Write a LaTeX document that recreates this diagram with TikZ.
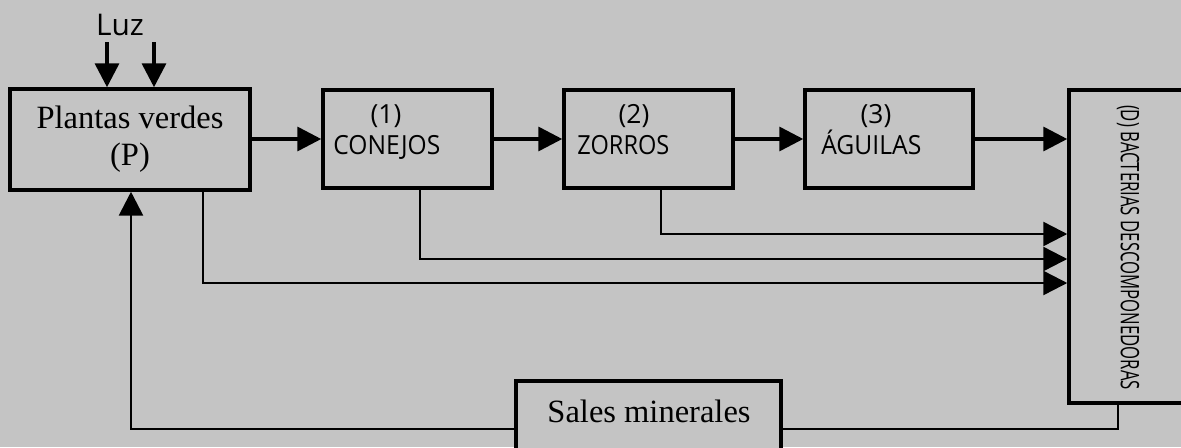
\documentclass[tikz,border=0pt]{standalone}
\usepackage{fontspec}
\setmainfont{Liberation Serif}
\setsansfont{Open Sans}
\usetikzlibrary{
  arrows.meta,
  calc
}
\definecolor{ink}{HTML}{000000}
\definecolor{paper}{HTML}{C4C4C4}
\tikzset{
  box/.style={
    draw=ink,
    fill=paper,
    line width=2pt,
    inner sep=0pt
  },
  flow/.style={
    -{Triangle[length=0.48cm,width=0.48cm]},
    line width=2pt,
    draw=ink
  },
  waste/.style={
    flow,
    line width=1.4pt
  },
  boxlabel/.style={
    font=\sffamily\fontsize{15}{18}\selectfont,
    inner sep=0pt
  },
  serifbig/.style={
    font=\fontsize{18.5}{21}\selectfont
  }
}

\begin{document}
\begin{tikzpicture}[x=0.02cm,y=-0.02cm]
  % Page and background.
  \fill[paper] (0,0) rectangle (1181,447);
  \useasboundingbox (0,0) rectangle (1181,447);
  \clip (0,0) rectangle (1181,447);

  % Boxes.
  \node[box, serifbig, align=center, minimum width=4.8cm, minimum height=2.02cm]
    (plantas) at (130,139.5) {Plantas verdes\\(P)};
  \node[box, minimum width=3.38cm, minimum height=1.96cm]
    (conejos) at (407.5,139) {};
  \node[box, minimum width=3.38cm, minimum height=1.96cm]
    (zorros) at (648.5,139) {};
  \node[box, minimum width=3.36cm, minimum height=1.96cm]
    (aguilas) at (889,139) {};
  \node[box, minimum width=2.42cm, minimum height=6.26cm]
    (bacterias) at (1129.5,246.5) {};
  \node[box, minimum width=5.3cm, minimum height=1.92cm]
    (sales) at (648.5,429) {};

  % Labels.
  \node[font=\sffamily\fontsize{17}{20}\selectfont, anchor=base, inner sep=0pt]
    (luz) at (120,35) {Luz};
  \node[boxlabel] (conejosnum) at (386,116.5) {(1)};
  \node[boxlabel, anchor=base west] (conejostext) at (333,154)
    {\resizebox{2.14cm}{\height}{CONEJOS}};
  \node[boxlabel] (zorrosnum) at (634,116.5) {(2)};
  \node[boxlabel, anchor=base west] (zorrostext) at (577,154)
    {\resizebox{1.84cm}{\height}{ZORROS}};
  \node[boxlabel] (aguilasnum) at (876,116.5) {(3)};
  \node[boxlabel, anchor=base west] (aguilastext) at (821,154)
    {\resizebox{2.0cm}{\height}{ÁGUILAS}};
  \node[rotate=-90, font=\sffamily\fontsize{14.5}{16}\selectfont, inner sep=0pt]
    (bacteriastext) at (1128,247.5)
    {\resizebox{5.7cm}{\height}{(D) BACTERIAS DESCOMPONEDORAS}};
  \node[serifbig, anchor=base, inner sep=0pt]
    (salestext) at (649,422) {Sales minerales};

  % Light.
  \coordinate (luzleft) at (107,42);
  \coordinate (luzright) at (154,42);
  \draw[flow] (luzleft) -- (luzleft |- plantas.north);
  \draw[flow] (luzright) -- (luzright |- plantas.north);

  % Food chain.
  \draw[flow] (plantas.east |- conejos.west) -- (conejos.west);
  \draw[flow] (conejos) -- (zorros);
  \draw[flow] (zorros) -- (aguilas);
  \draw[flow] (aguilas.east) -- (aguilas.east -| bacterias.west);

  % Remains to the decomposers.
  \coordinate (zorrosout) at (661,234);
  \coordinate (conejosout) at (420,259);
  \coordinate (plantasout) at (203,283);
  \draw[waste] (zorros.south -| zorrosout) -- (zorrosout)
    -- (zorrosout -| bacterias.west);
  \draw[waste] (conejos.south -| conejosout) -- (conejosout)
    -- (conejosout -| bacterias.west);
  \draw[waste] (plantas.south -| plantasout) -- (plantasout)
    -- (plantasout -| bacterias.west);

  % Mineral salts back to the plants.
  \coordinate (bacteriasout) at (1118,429);
  \coordinate (returncorner) at (131,429);
  \draw[line width=1.6pt] (bacteriasout |- bacterias.south) -- (bacteriasout)
    -- (sales.east);
  \draw[waste, line width=1.6pt] (sales.west) -- (returncorner)
    -- (returncorner |- plantas.south);
\end{tikzpicture}
\end{document}
